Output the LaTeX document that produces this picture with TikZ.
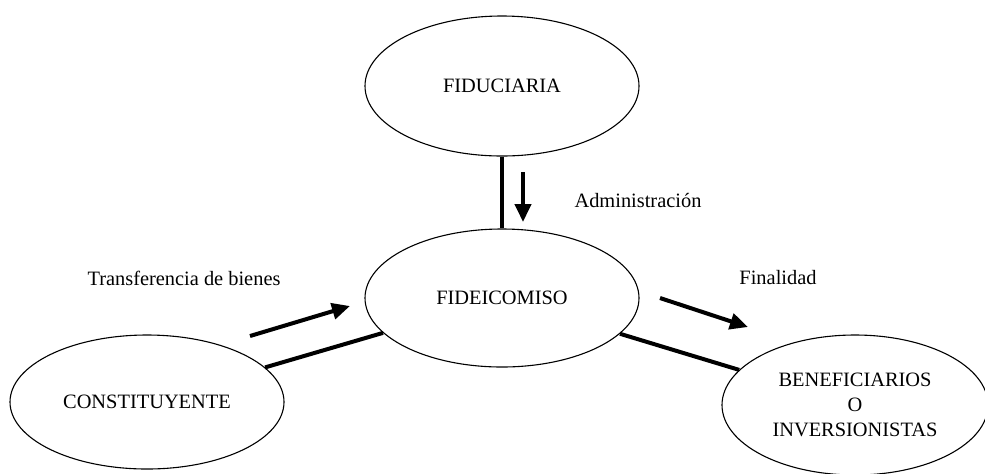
\documentclass[tikz,border=0pt]{standalone}
\usepackage{fontspec}
\setmainfont{Liberation Serif}
\usetikzlibrary{shapes.geometric,arrows.meta}
\begin{document}
\begin{tikzpicture}[x=0.5pt,y=-0.5pt,
  oval/.style={ellipse,draw,line width=0.55pt,inner sep=0pt,align=center,
    font=\fontsize{10.2}{12.5}\selectfont},
  link/.style={line width=2pt},
  flow/.style={line width=2pt,-{Triangle[length=9pt,width=8pt]}},
  lbl/.style={font=\fontsize{10.2}{12.5}\selectfont,inner sep=0pt}]
\useasboundingbox (0,0) rectangle (985,473);
\node[oval,minimum width=137pt,minimum height=70pt] (fid) at (502,86) {FIDUCIARIA};
\node[oval,minimum width=137pt,minimum height=69pt] (fide) at (502,298) {FIDEICOMISO};
\node[oval,minimum width=137pt,minimum height=67pt] (cons) at (147,402) {CONSTITUYENTE};
\node[oval,minimum width=133pt,minimum height=70pt] (ben) at (855,405) {BENEFICIARIOS\\O\\INVERSIONISTAS};
\draw[link] (fid) -- (fide);
\draw[link] (cons) -- (fide);
\draw[link] (fide) -- (ben);
\coordinate (a1) at (523,172); \coordinate (a2) at (523,222);
\coordinate (b1) at (250,336); \coordinate (b2) at (350,306);
\coordinate (c1) at (660,298); \coordinate (c2) at (748,327);
\draw[flow] (a1) -- (a2);
\draw[flow] (b1) -- (b2);
\draw[flow] (c1) -- (c2);
\node[lbl] (ladm) at (638,200) {Administración};
\node[lbl] (ltra) at (184,278) {Transferencia de bienes};
\node[lbl] (lfin) at (778,278) {Finalidad};
\end{tikzpicture}
\end{document}
